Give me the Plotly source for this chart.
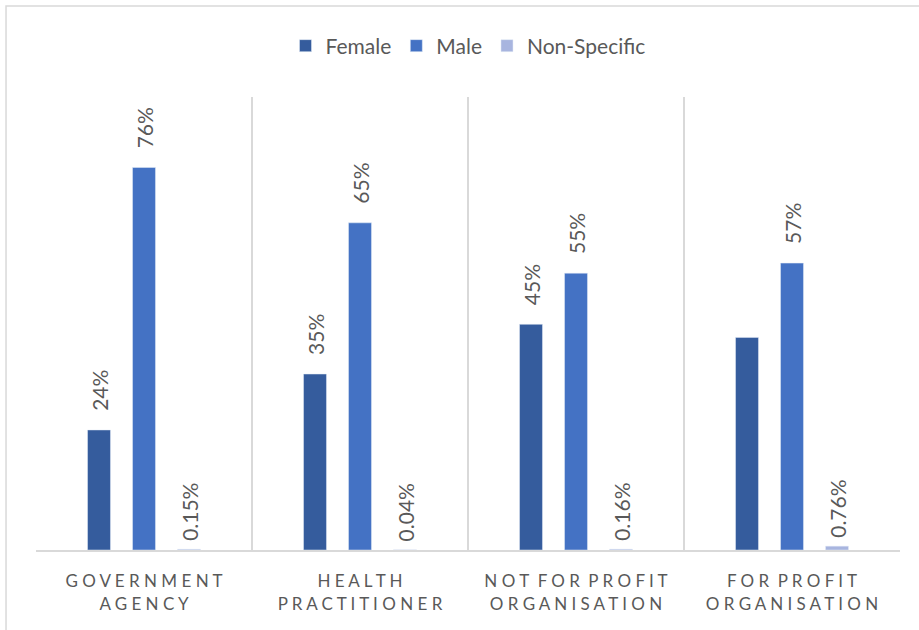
import plotly.graph_objects as go

categories = ["GOVERNMENT<br>AGENCY", "HEALTH<br>PRACTITIONER",
              "NOT FOR PROFIT<br>ORGANISATION", "FOR PROFIT<br>ORGANISATION"]
female = [0.2385, 0.3496, 0.4484, 0.4224]
male = [0.7600, 0.6500, 0.5500, 0.5700]
non_specific = [0.0015, 0.0004, 0.0016, 0.0076]

female_labels = ["24%", "35%", "45%", ""]
male_labels = ["76%", "65%", "55%", "57%"]
non_specific_labels = ["0.15%", "0.04%", "0.16%", "0.76%"]

FONT = "Lato"
GREY = "#595959"


def spaced(label):
    # imitate Excel's wide letter spacing on the category axis
    lines = label.split("<br>")
    out = []
    for line in lines:
        words = [" ".join(w) for w in line.split(" ")]
        out.append("\u2002".join(words))
    return "<br>".join(out)


def pad(labels, n=3):
    # push the rotated labels a little off the bar top
    return ["\u00a0" * n + t if t else "" for t in labels]


x_labels = [spaced(c) for c in categories]

fig = go.Figure()
for name, vals, labels, color, n in [
    ("Female", female, female_labels, "#355C9D", 3),
    ("Male", male, male_labels, "#4472C4", 3),
    ("Non-Specific", non_specific, non_specific_labels, "#A8B5DF", 1),
]:
    fig.add_trace(go.Bar(
        name=name, x=x_labels, y=vals, marker_color=color,
        text=pad(labels, n), textposition="outside", textangle=-90,
        textfont=dict(family=FONT, size=21, color=GREY),
        cliponaxis=False,
    ))

fig.update_layout(
    width=919, height=630,
    margin=dict(l=36, r=19, t=97, b=80, autoexpand=False),
    paper_bgcolor="white", plot_bgcolor="white",
    barmode="group", bargap=0.375, bargroupgap=0.49,
    uniformtext=dict(minsize=21, mode="show"),
    font=dict(family=FONT, color=GREY),
    legend=dict(orientation="h", x=0.5, xanchor="center", y=1.1126, yanchor="middle",
                font=dict(family=FONT, size=21, color=GREY),
                bgcolor="rgba(0,0,0,0)", traceorder="normal"),
    showlegend=True,
)
fig.update_xaxes(
    tickson="boundaries", showgrid=True, gridcolor="#D9D9D9", gridwidth=1.5,
    showline=True, linecolor="#D9D9D9", linewidth=2, ticks="",
    ticklabelstandoff=15,
    tickfont=dict(family=FONT, size=17, color=GREY),
)
fig.update_yaxes(range=[0, 0.9], showgrid=False, showticklabels=False,
                 zeroline=False, showline=False)

# outer chart frame
fig.add_shape(type="rect", xref="paper", yref="paper",
              x0=-0.0347, x1=1.03, y0=-0.2, y1=1.2009,
              line=dict(color="#D9D9D9", width=1.5), layer="below")

fig.write_html("out.html", config={"displayModeBar": False})

# drop the browser's default body margin so the figure sits at the page corner
with open("out.html", encoding="utf-8") as f:
    html = f.read()
html = html.replace("<body>", '<body style="margin:0">', 1)
with open("out.html", "w", encoding="utf-8") as f:
    f.write(html)
